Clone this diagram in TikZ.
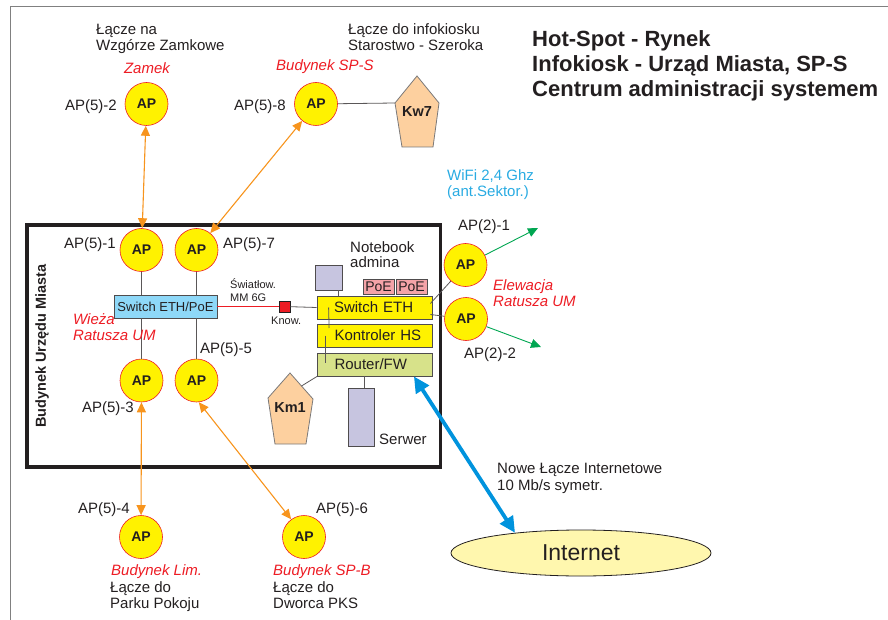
\documentclass[tikz,border=0pt]{standalone}
\usepackage{fontspec}
\setmainfont{Liberation Sans}
\usetikzlibrary{arrows.meta,shapes.geometric}
\definecolor{ink}{HTML}{231F20}
\definecolor{apyellow}{HTML}{FFF200}
\definecolor{apred}{HTML}{ED1C24}
\definecolor{linkorange}{HTML}{F7941D}
\definecolor{wanblue}{HTML}{0093DD}
\definecolor{sectgreen}{HTML}{00A651}
\definecolor{poeblue}{HTML}{8ED8F8}
\definecolor{fwgreen}{HTML}{D7E28A}
\definecolor{pclav}{HTML}{C7C5E0}
\definecolor{poepink}{HTML}{F4A3A8}
\definecolor{kioskfill}{HTML}{FDD09F}
\definecolor{netyellow}{HTML}{FFF7AE}
\definecolor{wificyan}{HTML}{29ABE2}
\begin{document}
\begin{tikzpicture}[x=1pt,y=-1pt,
  every node/.style={text=ink, inner sep=0pt},
  txt/.style={font=\fontsize{15}{16}\selectfont, align=left, anchor=base west},
  txtr/.style={txt, anchor=base east},
  place/.style={txt, text=apred, font=\fontsize{15}{16}\selectfont\itshape},
  small/.style={txt, font=\fontsize{11}{13}\selectfont},
  ap/.style={circle, draw=apred, fill=apyellow, line width=.6pt, minimum size=43pt,
    font=\fontsize{14}{16}\selectfont\bfseries},
  box/.style={draw=ink!80, line width=.8pt, minimum width=115pt, minimum height=23pt,
    text width=115pt, align=left, font=\fontsize{15}{16}\selectfont,
    execute at begin node={\hspace*{17pt}}},
  pc/.style={draw=ink!80, fill=pclav, line width=.8pt},
  poe/.style={draw=ink!80, fill=poepink, line width=.8pt, minimum width=31pt,
    minimum height=15pt, font=\fontsize{14}{15}\selectfont},
  kiosk/.style={draw=ink!60, fill=kioskfill, line width=.8pt},
  kioskname/.style={font=\fontsize{14.5}{16}\selectfont\bfseries},
  wire/.style={draw=ink!75, line width=.8pt},
  fibre/.style={draw=apred, line width=.9pt},
  link/.style={linkorange, line width=1.1pt,
    {Triangle[length=10pt,width=9pt]}-{Triangle[length=10pt,width=9pt]}},
  sector/.style={sectgreen, line width=.9pt, -{Triangle[length=10pt,width=9pt]}},
  wan/.style={wanblue, line width=3.8pt,
    {Triangle[length=16pt,width=15pt]}-{Triangle[length=16pt,width=15pt]}}]
  \useasboundingbox (0,0) rectangle (888,620);
  \draw[gray, line width=1pt] (10,620) -- (10,7) -- (888,7);
  % building of the town hall
  \draw[ink, line width=3.6pt] (27,225) rectangle (440.5,467);
  \node[rotate=90, font=\fontsize{14.5}{16}\selectfont\bfseries] (bum) at (42,346) {Budynek Urzędu Miasta};

  % access points
  \node[ap] (ap52) at (146.5,104) {AP};
  \node[ap] (ap58) at (316,104) {AP};
  \node[ap] (ap51) at (141.5,250) {AP};
  \node[ap] (ap57) at (196.5,250) {AP};
  \node[ap] (ap53) at (141.5,380.5) {AP};
  \node[ap] (ap55) at (196.5,380.5) {AP};
  \node[ap] (ap54) at (141,537) {AP};
  \node[ap] (ap56) at (304,537) {AP};
  \node[ap] (ap21) at (465.5,265) {AP};
  \node[ap] (ap22) at (466,319) {AP};

  % devices
  \node[draw=ink!80, fill=poeblue, line width=.8pt, minimum width=103pt, minimum height=23pt,
    font=\fontsize{13}{15}\selectfont] (sw) at (165.5,306.5) {Switch ETH/PoE};
  \node[box, fill=apyellow] (swe) at (374.5,307.5) {Switch ETH};
  \node[box, fill=apyellow] (kon) at (375,335.5) {Kontroler HS};
  \node[box, fill=fwgreen] (rtr) at (375,364.5) {Router/FW};
  \node[pc, minimum width=27pt, minimum height=25pt] (nb) at (328.5,277.5) {};
  \node[pc, minimum width=26pt, minimum height=58pt] (srv) at (361,417) {};
  \node[poe] (poe1) at (378.5,286.5) {PoE};
  \node[poe] (poe2) at (411.5,286.5) {PoE};
  \node[draw=ink, fill=apred, line width=.6pt, minimum size=11pt] (know) at (284.5,306.5) {};
  \node[ellipse, draw=ink, fill=netyellow, line width=.8pt, minimum width=260pt, minimum height=46pt,
    font=\fontsize{23}{25}\selectfont] (internet) at (581,553) {Internet};

  % kiosks
  \draw[kiosk] (417,76) -- (439,103) -- (433,147) -- (402,147) -- (395,103) -- cycle;
  \node[kioskname] (kw7) at (417,112) {Kw7};
  \coordinate (kw7w) at (395,103);
  \draw[kiosk] (290,373) -- (313,399) -- (306,444) -- (275,444) -- (268,398) -- cycle;
  \node[kioskname] (km1) at (290,408) {Km1};
  \coordinate (km1ne) at (301.5,386);

  % cables
  \draw[wire] (ap58) -- (kw7w);
  \draw[wire] (ap51) -- (ap51 |- sw.north);
  \draw[wire] (ap57) -- (ap57 |- sw.north);
  \draw[wire] (ap53) -- (ap53 |- sw.south);
  \draw[wire] (ap55) -- (ap55 |- sw.south);
  \draw[fibre] (sw.east) -- (know);
  \draw[wire] (know) -- (swe.west);
  \draw[wire] ([xshift=9.5pt]nb.south) -- ([xshift=9.5pt]nb.south |- swe.north);
  \draw[wire] ([xshift=12pt]swe.west) -- ([xshift=12pt,yshift=7.5pt]kon.west);
  \draw[wire] ([xshift=8pt]kon.west) -- ([xshift=8pt,yshift=2pt]rtr.west);
  \draw[wire] (km1ne) -- (rtr.south west);
  \draw[wire] ([xshift=3pt]srv.north) -- ([xshift=3pt]srv.north |- rtr.south);
  \draw[wire] ([xshift=-2pt,yshift=4pt]swe.east) -- (ap21);
  \draw[wire] ([xshift=-2pt,yshift=-7pt]swe.east) -- (ap22);

  % radio links
  \draw[link] (ap52) -- (ap51);
  \draw[link] (ap58) -- (ap57);
  \draw[link] (ap53) -- (ap54);
  \draw[link] (ap55.-84) -- (ap56.126);
  \coordinate (sec1) at (538,228);
  \coordinate (sec2) at (541,347);
  \draw[sector] (ap21) -- (sec1);
  \draw[sector] (ap22) -- (sec2);
  \draw[wan] (rtr.-17) -- (internet.163);

  % labels (base = last line)
  \node[font=\fontsize{22}{25}\selectfont\bfseries, align=left, anchor=base west] (title) at (532,97)
    {Hot-Spot - Rynek\\Infokiosk - Urząd Miasta, SP-S\\Centrum administracji systemem};
  \node[txt] (wzg) at (96,51) {Łącze na\\Wzgórze Zamkowe};
  \node[place, anchor=base] (zamek) at (147,74) {Zamek};
  \node[txtr] (t52) at (117,111) {AP(5)-2};
  \node[txt] (info) at (348,51) {Łącze do infokiosku\\Starostwo - Szeroka};
  \node[place] (spsname) at (276,71) {Budynek SP-S};
  \node[txtr] (t58) at (286,111) {AP(5)-8};
  \node[txt, text=wificyan] (wifi) at (447,197) {WiFi 2,4 Ghz\\(ant.Sektor.)};
  \node[txt] (t21) at (458,231) {AP(2)-1};
  \node[txt] (t22) at (464,358) {AP(2)-2};
  \node[place] (elew) at (493,306) {Elewacja\\Ratusza UM};
  \node[txt] (nbname) at (350,268) {Notebook\\admina};
  \node[txtr] (t51) at (116,248) {AP(5)-1};
  \node[txt] (t57) at (223,248) {AP(5)-7};
  \node[small] (fibrename) at (230,301) {Światłow.\\MM 6G};
  \node[small] (knowname) at (271,324) {Know.};
  \node[place] (wieza) at (73,340) {Wieża\\Ratusza UM};
  \node[txt] (t55) at (200,353) {AP(5)-5};
  \node[txtr] (t53) at (134,412) {AP(5)-3};
  \node[txt] (srvname) at (379,444) {Serwer};
  \node[txt, font=\fontsize{15}{17}\selectfont] (wanname) at (497,490) {Nowe Łącze Internetowe\\10 Mb/s symetr.};
  \node[txtr] (t54) at (130,513) {AP(5)-4};
  \node[txt] (t56) at (316,513) {AP(5)-6};
  \node[place] (limname) at (111,575) {Budynek Lim.};
  \node[txt] (lim) at (110,608) {Łącze do\\Parku Pokoju};
  \node[place] (spbname) at (273,575) {Budynek SP-B};
  \node[txt] (spb) at (273,608) {Łącze do\\Dworca PKS};
\end{tikzpicture}
\end{document}
